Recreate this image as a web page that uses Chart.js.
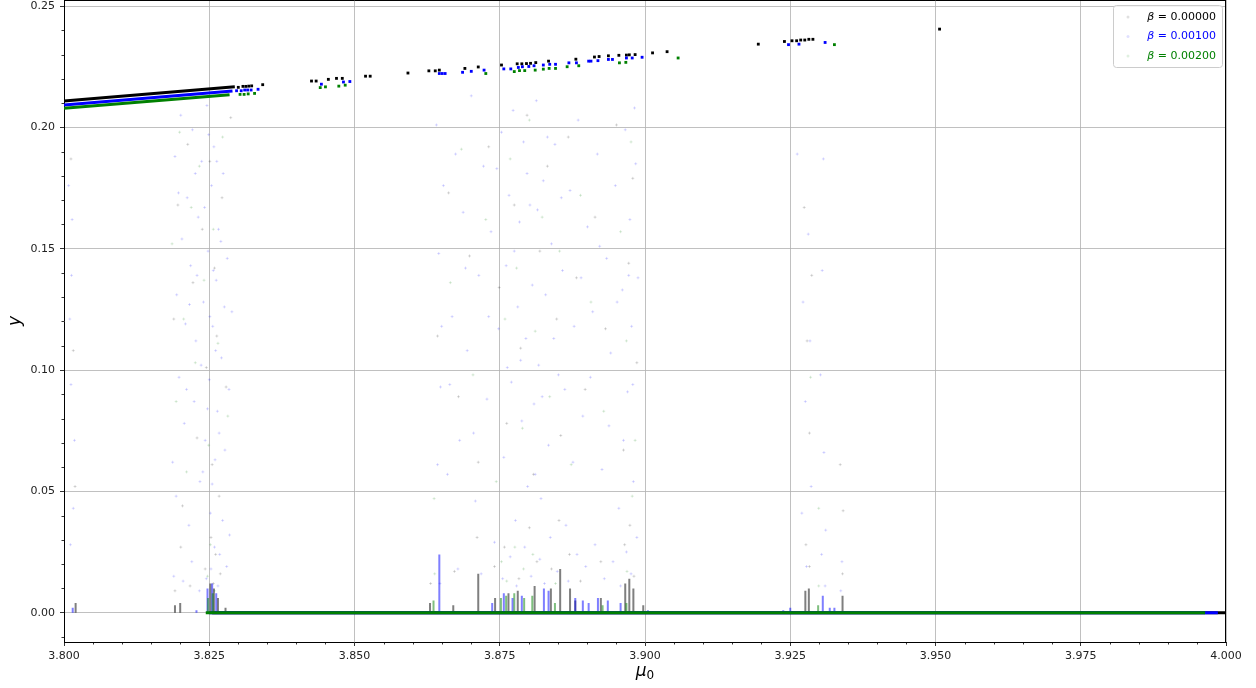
<!DOCTYPE html>
<html>
<head>
<meta charset="utf-8">
<script src="https://cdn.jsdelivr.net/npm/chart.js@4.4.1/dist/chart.umd.min.js"></script>
<style>
  html, body { margin: 0; padding: 0; background: #fff; }
</style>
</head>
<body>
<canvas id="chart" width="1256" height="688"></canvas>
<script>
/* axes */
const xTicks = [3.800, 3.825, 3.850, 3.875, 3.900, 3.925, 3.950, 3.975, 4.000];
const yTicks = [0.00, 0.05, 0.10, 0.15, 0.20, 0.25];
const betas = ['0.00000', '0.00100', '0.00200'];
const colors = ['#000000', '#0000ff', '#008000'];

/* upper periodic branch (dense part, read as a band) */
const blackBranch = [[3.8000, 0.2109], [3.8294, 0.2167]];
const blueBranch = [[3.8000, 0.2092], [3.8290, 0.2150]];
const greenBranch = [[3.8000, 0.2079], [3.8285, 0.2134]];

/* isolated periodic points on the upper branch */
const blackDots = [[3.8300,0.2165],[3.8308,0.2169],[3.8313,0.2169],[3.8318,0.2170],[3.8323,0.2171],[3.8342,0.2176],
  [3.8426,0.2191],[3.8434,0.2191],[3.8455,0.2198],[3.8469,0.2202],[3.8479,0.2202],[3.8519,0.2211],[3.8527,0.2211],
  [3.8592,0.2224],[3.8628,0.2233],[3.8639,0.2233],[3.8646,0.2236],[3.8690,0.2243],[3.8713,0.2249],[3.8753,0.2257],
  [3.8780,0.2262],[3.8788,0.2262],[3.8796,0.2263],[3.8803,0.2264],[3.8812,0.2267],[3.8834,0.2273],[3.8881,0.2281],
  [3.8913,0.2290],[3.8921,0.2292],[3.8937,0.2295],[3.8955,0.2297],[3.8968,0.2298],[3.8973,0.2299],[3.8983,0.2300],
  [3.9013,0.2307],[3.9038,0.2312],[3.9195,0.2343],[3.9240,0.2354],[3.9253,0.2357],[3.9261,0.2357],[3.9268,0.2360],
  [3.9275,0.2360],[3.9282,0.2363],[3.9289,0.2363],[3.9507,0.2405]];
const blueDots = [[3.8297,0.2151],[3.8305,0.2151],[3.8311,0.2154],[3.8316,0.2154],[3.8322,0.2154],[3.8334,0.2157],
  [3.8443,0.2178],[3.8481,0.2187],[3.8492,0.2189],[3.8646,0.2222],[3.8651,0.2222],[3.8656,0.2222],[3.8686,0.2227],
  [3.8701,0.2231],[3.8723,0.2236],[3.8757,0.2241],[3.8769,0.2241],[3.8782,0.2247],[3.8789,0.2250],[3.8800,0.2251],
  [3.8809,0.2254],[3.8825,0.2257],[3.8836,0.2260],[3.8846,0.2260],[3.8869,0.2266],[3.8882,0.2266],[3.8903,0.2273],
  [3.8907,0.2273],[3.8919,0.2275],[3.8937,0.2280],[3.8944,0.2280],[3.8968,0.2286],[3.8978,0.2286],[3.8995,0.2289],
  [3.9247,0.2341],[3.9265,0.2343],[3.9310,0.2350]];
const greenDots = [[3.8303,0.2136],[3.8310,0.2136],[3.8317,0.2138],[3.8328,0.2140],[3.8441,0.2164],[3.8450,0.2167],
  [3.8473,0.2170],[3.8484,0.2174],[3.8726,0.2222],[3.8775,0.2230],[3.8784,0.2234],[3.8793,0.2234],[3.8811,0.2236],
  [3.8825,0.2240],[3.8835,0.2243],[3.8846,0.2243],[3.8866,0.2250],[3.8886,0.2254],[3.8956,0.2266],[3.8967,0.2268],
  [3.9057,0.2286],[3.9326,0.2341]];

/* fixed point y = 0 */
const blackZero = [[3.8255, 0], [4.0000, 0]];
const blueZero = [[3.8250, 0], [3.9986, 0]];
const greenZero = [[3.8244, 0], [3.9964, 0]];

/* spikes just above y = 0: [mu, height] */
const blackSpikes = [[3.8020,0.004],[3.8191,0.003],[3.8200,0.004],[3.8252,0.012],[3.8258,0.010],[3.8265,0.006],
  [3.8278,0.002],[3.8630,0.004],[3.8670,0.003],[3.8713,0.016],[3.8742,0.006],[3.8765,0.008],[3.8781,0.009],
  [3.8810,0.011],[3.8838,0.010],[3.8854,0.018],[3.8871,0.010],[3.8880,0.005],[3.8924,0.006],[3.8966,0.012],
  [3.8973,0.014],[3.8980,0.010],[3.8997,0.003],[3.9276,0.009],[3.9282,0.010],[3.9340,0.007]];
const blueSpikes = [[3.8015,0.002],[3.8228,0.001],[3.8247,0.010],[3.8255,0.012],[3.8262,0.008],[3.8646,0.024],
  [3.8737,0.004],[3.8757,0.008],[3.8772,0.006],[3.8788,0.007],[3.8826,0.010],[3.8834,0.009],[3.8880,0.006],
  [3.8893,0.005],[3.8903,0.004],[3.8919,0.006],[3.8936,0.005],[3.8958,0.004],[3.9005,0.001],[3.9238,0.001],
  [3.9250,0.002],[3.9306,0.007],[3.9318,0.002],[3.9326,0.002]];
const greenSpikes = [[3.8248,0.006],[3.8256,0.008],[3.8636,0.005],[3.8752,0.006],[3.8761,0.007],[3.8775,0.008],
  [3.8792,0.006],[3.8806,0.007],[3.8845,0.004],[3.8927,0.003],[3.8968,0.004],[3.9298,0.003]];

/* faint chaotic points */
const blueCloud = [[3.8008,0.176],[3.8010,0.121],[3.8012,0.094],[3.8014,0.162],[3.8016,0.043],[3.8011,0.028],[3.8018,0.071],[3.8013,0.139],
  [3.8187,0.062],[3.8191,0.188],[3.8194,0.131],[3.8198,0.097],[3.8201,0.205],[3.8203,0.154],[3.8207,0.078],[3.8209,0.119],
  [3.8212,0.171],[3.8215,0.036],[3.8218,0.143],[3.8221,0.199],[3.8224,0.087],[3.8227,0.112],[3.8231,0.163],[3.8234,0.054],
  [3.8237,0.186],[3.8240,0.128],[3.8243,0.071],[3.8246,0.209],[3.8248,0.149],[3.8250,0.096],[3.8252,0.041],[3.8254,0.176],
  [3.8256,0.118],[3.8258,0.192],[3.8260,0.063],[3.8262,0.137],[3.8264,0.083],[3.8266,0.158],[3.8268,0.024],[3.8271,0.105],
  [3.8274,0.181],[3.8277,0.067],[3.8281,0.146],[3.8285,0.032],[3.8289,0.124],
  [3.8189,0.015],[3.8193,0.048],[3.8197,0.173],[3.8205,0.013],[3.8211,0.092],[3.8216,0.127],[3.8220,0.021],[3.8226,0.181],
  [3.8229,0.139],[3.8233,0.009],[3.8236,0.102],[3.8239,0.058],[3.8242,0.167],[3.8245,0.014],[3.8247,0.084],[3.8249,0.197],
  [3.8251,0.122],[3.8253,0.018],[3.8255,0.053],[3.8257,0.141],[3.8259,0.027],[3.8261,0.108],[3.8263,0.186],[3.8265,0.011],
  [3.8267,0.074],[3.8270,0.153],[3.8273,0.038],[3.8276,0.126],[3.8280,0.019],[3.8284,0.092],
  [3.8641,0.201],[3.8645,0.148],[3.8648,0.093],[3.8653,0.176],[3.8660,0.057],[3.8668,0.122],[3.8674,0.189],[3.8681,0.071],
  [3.8687,0.165],[3.8694,0.108],[3.8701,0.213],[3.8708,0.046],[3.8714,0.139],[3.8722,0.184],[3.8728,0.088],[3.8735,0.157],
  [3.8741,0.029],[3.8748,0.117],[3.8753,0.198],[3.8757,0.064],[3.8761,0.143],[3.8766,0.172],[3.8770,0.095],[3.8773,0.207],
  [3.8777,0.038],[3.8781,0.126],[3.8784,0.161],[3.8788,0.079],[3.8791,0.194],[3.8795,0.113],[3.8798,0.052],[3.8802,0.168],
  [3.8806,0.135],[3.8809,0.086],[3.8813,0.211],[3.8817,0.102],[3.8821,0.047],[3.8825,0.178],[3.8829,0.131],[3.8834,0.069],
  [3.8839,0.152],[3.8845,0.193],[3.8851,0.098],[3.8858,0.141],[3.8864,0.036],[3.8871,0.174],[3.8878,0.118],[3.8885,0.203],
  [3.8893,0.081],[3.8901,0.159],[3.8910,0.124],[3.8918,0.189],[3.8926,0.059],[3.8934,0.146],[3.8941,0.107],[3.8949,0.176],
  [3.8955,0.043],[3.8961,0.133],[3.8966,0.199],[3.8970,0.091],[3.8974,0.162],[3.8977,0.118],[3.8980,0.054],[3.8984,0.185],
  [3.8988,0.138],
  [3.8643,0.061],[3.8647,0.012],[3.8650,0.118],[3.8664,0.094],[3.8678,0.018],[3.8691,0.142],[3.8705,0.074],[3.8718,0.016],
  [3.8731,0.122],[3.8745,0.183],[3.8755,0.014],[3.8763,0.101],[3.8768,0.023],[3.8775,0.149],[3.8779,0.011],[3.8786,0.104],
  [3.8793,0.027],[3.8797,0.181],[3.8804,0.015],[3.8811,0.057],[3.8815,0.166],[3.8819,0.022],[3.8823,0.089],[3.8827,0.012],
  [3.8832,0.196],[3.8837,0.031],[3.8843,0.113],[3.8849,0.017],[3.8856,0.171],[3.8862,0.092],[3.8868,0.013],[3.8876,0.062],
  [3.8883,0.024],[3.8890,0.138],[3.8898,0.019],[3.8906,0.097],[3.8914,0.028],[3.8922,0.151],[3.8930,0.014],[3.8938,0.077],
  [3.8945,0.021],[3.8952,0.128],[3.8958,0.011],[3.8963,0.071],[3.8968,0.025],[3.8972,0.139],[3.8976,0.016],[3.8979,0.094],
  [3.8982,0.208],[3.8986,0.031],
  [3.9272,0.128],[3.9276,0.087],[3.9281,0.156],[3.9286,0.052],[3.9302,0.098],[3.9305,0.141],[3.9308,0.066],
  [3.9311,0.034],[3.9339,0.021],[3.9262,0.189],[3.9270,0.041],[3.9278,0.019],[3.9284,0.112],[3.9304,0.024],[3.9307,0.187],
  [3.9310,0.011],[3.9337,0.009]];
const blackCloud = [[3.8012,0.187],[3.8016,0.108],[3.8019,0.052],
  [3.8189,0.121],[3.8196,0.168],[3.8204,0.044],[3.8213,0.193],[3.8222,0.136],[3.8229,0.072],[3.8238,0.158],[3.8245,0.101],
  [3.8251,0.186],[3.8255,0.061],[3.8259,0.142],[3.8263,0.114],[3.8267,0.048],[3.8272,0.171],[3.8279,0.093],[3.8287,0.204],
  [3.8191,0.009],[3.8201,0.027],[3.8217,0.011],[3.8243,0.018],[3.8253,0.031],[3.8257,0.012],[3.8261,0.024],[3.8269,0.016],
  [3.8643,0.114],[3.8662,0.173],[3.8679,0.089],[3.8698,0.147],[3.8713,0.062],[3.8731,0.192],[3.8749,0.134],[3.8762,0.078],
  [3.8775,0.168],[3.8786,0.109],[3.8797,0.205],[3.8808,0.057],[3.8819,0.149],[3.8832,0.184],[3.8848,0.121],[3.8855,0.073],
  [3.8868,0.196],[3.8882,0.138],[3.8897,0.092],[3.8914,0.163],[3.8932,0.117],[3.8951,0.201],[3.8963,0.067],[3.8972,0.144],
  [3.8979,0.179],[3.8986,0.103],
  [3.8631,0.012],[3.8672,0.017],[3.8711,0.031],[3.8741,0.019],[3.8758,0.027],[3.8783,0.014],[3.8801,0.035],[3.8814,0.021],
  [3.8839,0.018],[3.8852,0.038],[3.8870,0.024],[3.8889,0.013],[3.8924,0.021],[3.8965,0.028],[3.8974,0.036],[3.8981,0.015],
  [3.9274,0.167],[3.9279,0.112],[3.9283,0.074],[3.9287,0.139],[3.9341,0.042],[3.9336,0.061],
  [3.9277,0.028],[3.9283,0.019],[3.9340,0.016]];
const greenCloud = [[3.8186,0.152],[3.8193,0.087],[3.8199,0.198],[3.8206,0.121],[3.8211,0.058],[3.8219,0.167],[3.8226,0.103],
  [3.8233,0.184],[3.8241,0.137],[3.8249,0.069],[3.8257,0.158],[3.8265,0.111],[3.8273,0.196],[3.8282,0.081],
  [3.8247,0.015],[3.8252,0.028],[3.8259,0.009],
  [3.8637,0.047],[3.8665,0.136],[3.8684,0.191],[3.8704,0.098],[3.8726,0.162],[3.8744,0.054],[3.8759,0.121],[3.8768,0.187],
  [3.8779,0.142],[3.8789,0.076],[3.8801,0.203],[3.8811,0.116],[3.8823,0.163],[3.8836,0.089],[3.8853,0.149],[3.8873,0.061],
  [3.8889,0.172],[3.8907,0.128],[3.8929,0.083],[3.8958,0.157],[3.8968,0.112],[3.8976,0.194],[3.8983,0.071],
  [3.8638,0.016],[3.8753,0.021],[3.8762,0.013],[3.8776,0.027],[3.8791,0.018],[3.8807,0.024],[3.8846,0.012],[3.8969,0.017],
  [3.8978,0.048],[3.9299,0.043],[3.9285,0.097],[3.9299,0.011]];

const FONT = 'DejaVu Sans';

function pts(list) { return list.map(([x, y]) => ({x, y})); }
function spikes(list) {
  const out = [];
  list.forEach(([x, h]) => out.push({x, y: 0}, {x, y: h}, {x, y: null}));
  return out;
}
function rgba(hex, a) {
  const n = parseInt(hex.slice(1), 16);
  return `rgba(${n >> 16},${(n >> 8) & 255},${n & 255},${a})`;
}

function seriesSets(color, base, cloud, spk, branch, dots, zero) {
  return [
    { data: pts(cloud), showLine: false, pointStyle: 'cross', pointRadius: 1.5, borderWidth: 1,
      borderColor: rgba(color, 0.14), backgroundColor: rgba(color, 0.14), order: base + 5 },
    { data: spikes(spk), showLine: true, spanGaps: false, pointRadius: 0, borderWidth: 2,
      borderColor: rgba(color, 0.5), order: base + 4 },
    { data: pts(branch), showLine: true, pointRadius: 0, borderWidth: 3, borderColor: color, order: base + 3 },
    { data: pts(dots), showLine: false, pointStyle: 'rect', pointRadius: 2, borderWidth: 0,
      backgroundColor: color, order: base + 2 },
    { data: pts(zero), showLine: true, pointRadius: 0, borderWidth: 3, borderColor: color, order: base + 1 }
  ];
}

const datasets = [
  ...seriesSets(colors[0], 30, blackCloud, blackSpikes, blackBranch, blackDots, blackZero),
  ...seriesSets(colors[1], 20, blueCloud, blueSpikes, blueBranch, blueDots, blueZero),
  ...seriesSets(colors[2], 10, greenCloud, greenSpikes, greenBranch, greenDots, greenZero)
];

/* frame, minor ticks, axis titles and legend */
const decorations = {
  id: 'decorations',
  afterDraw(chart) {
    const {ctx, chartArea: a, scales: {x, y}} = chart;
    ctx.save();
    ctx.strokeStyle = '#000';
    ctx.lineWidth = 1;
    ctx.beginPath();
    ctx.moveTo(a.left, a.top + 0.5); ctx.lineTo(a.right, a.top + 0.5);
    ctx.moveTo(a.right - 0.5, a.top); ctx.lineTo(a.right - 0.5, a.bottom);
    ctx.stroke();

    ctx.lineWidth = 0.8;
    ctx.beginPath();
    for (let i = 1; i < 40; i++) {
      if (i % 5 === 0) continue;
      const px = Math.round(x.getPixelForValue(3.8 + i * 0.005)) + 0.5;
      ctx.moveTo(px, a.bottom); ctx.lineTo(px, a.bottom + 2.5);
    }
    for (let i = -1; i <= 25; i++) {
      if (i % 5 === 0) continue;
      const py = Math.round(y.getPixelForValue(i * 0.01)) + 0.5;
      ctx.moveTo(a.left, py); ctx.lineTo(a.left - 2.5, py);
    }
    ctx.stroke();

    ctx.fillStyle = '#000';
    ctx.save();
    ctx.translate(16, 321);
    ctx.rotate(-Math.PI / 2);
    ctx.font = `italic 17px "${FONT}"`;
    ctx.textAlign = 'center';
    ctx.textBaseline = 'middle';
    ctx.fillText('y', 0, 0);
    ctx.restore();

    ctx.font = `italic 17px "${FONT}"`;
    const muW = ctx.measureText('μ').width;
    ctx.font = `12px "${FONT}"`;
    const subW = ctx.measureText('0').width;
    const cx = (a.left + a.right) / 2 - (muW + subW) / 2;
    ctx.textBaseline = 'alphabetic';
    ctx.textAlign = 'left';
    ctx.font = `italic 17px "${FONT}"`;
    ctx.fillText('μ', cx, 676);
    ctx.font = `12px "${FONT}"`;
    ctx.fillText('0', cx + muW, 679);

    // legend
    const lx = 1113, ly = 5, lw = 109, lh = 62;
    ctx.beginPath();
    ctx.roundRect(lx + 0.5, ly + 0.5, lw, lh, 3);
    ctx.fillStyle = 'rgba(255,255,255,0.8)';
    ctx.fill();
    ctx.strokeStyle = '#cccccc';
    ctx.lineWidth = 1;
    ctx.stroke();
    betas.forEach((b, i) => {
      const cy = 17 + i * 19.5;
      ctx.fillStyle = rgba(colors[i], 0.12);
      ctx.beginPath();
      ctx.arc(1128, cy, 1.5, 0, Math.PI * 2);
      ctx.fill();
      ctx.fillStyle = colors[i];
      ctx.textBaseline = 'middle';
      ctx.textAlign = 'right';
      ctx.font = `11px "${FONT}"`;
      const rest = ' = ' + b;
      ctx.fillText(rest, 1216, cy);
      const rw = ctx.measureText(rest).width;
      ctx.font = `italic 11px "${FONT}"`;
      ctx.fillText('β', 1216 - rw, cy);
    });
    ctx.restore();
  }
};

new Chart(document.getElementById('chart'), {
  type: 'scatter',
  data: { datasets },
  options: {
    responsive: false,
    devicePixelRatio: 1,
    animation: false,
    layout: { autoPadding: false, padding: { top: 0, right: 30, bottom: 0, left: 0 } },
    plugins: { legend: { display: false }, tooltip: { enabled: false } },
    scales: {
      x: {
        type: 'linear', min: 3.8, max: 4.0,
        afterBuildTicks: (s) => { s.ticks = xTicks.map(v => ({value: v})); },
        afterFit: (s) => { s.height = 46; s.paddingLeft = 0; s.paddingRight = 0; },
        ticks: { callback: (v) => v.toFixed(3), font: { family: FONT, size: 11 }, color: '#222', padding: 4, maxRotation: 0 },
        grid: { color: '#b0b0b0', lineWidth: 0.8, tickLength: 4, tickColor: '#000' },
        border: { color: '#000', width: 1 }
      },
      y: {
        type: 'linear', min: -0.0121, max: 0.2525,
        afterBuildTicks: (s) => { s.ticks = yTicks.map(v => ({value: v})); },
        afterFit: (s) => { s.width = 64; s.paddingTop = 0; s.paddingBottom = 0; },
        ticks: { callback: (v) => v.toFixed(2), font: { family: FONT, size: 11 }, color: '#222', padding: 5 },
        grid: { color: '#b0b0b0', lineWidth: 0.8, tickLength: 4, tickColor: '#000' },
        border: { color: '#000', width: 1 }
      }
    }
  },
  plugins: [decorations]
});
</script>
</body>
</html>
